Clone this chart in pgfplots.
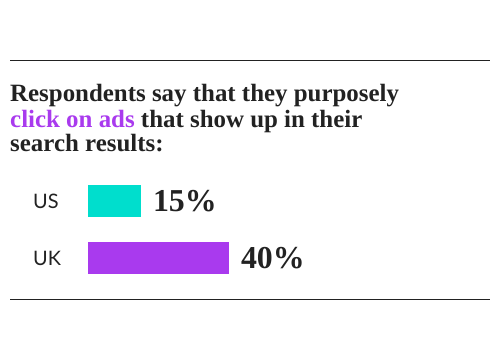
\documentclass[border=0pt]{standalone}
\usepackage{pgfplots}
\pgfplotsset{compat=1.18}
\usepackage{fontspec}
\setmainfont{Liberation Serif}
\newfontfamily\lab{Lato}
\definecolor{teal1}{HTML}{00DECD}
\definecolor{purp}{HTML}{A93AEE}
\definecolor{ink}{HTML}{222222}
\begin{document}
\begin{tikzpicture}
\path[use as bounding box] (0bp,0bp) rectangle (500bp,362bp);
\draw[ink, line width=1bp] (10bp,301.7bp) -- (490bp,301.7bp);
\draw[ink, line width=1bp] (10bp,62bp) -- (490bp,62bp);
\begin{scope}[every node/.style={anchor=base west, inner sep=0pt, font=\bfseries\fontsize{25}{25}\selectfont, text=ink}]
\node at (10bp,260.3bp) {Respondents say that they purposely};
\node at (10bp,234.7bp) {\textcolor{purp}{click on ads} that show up in their};
\node at (10bp,210.3bp) {search results:};
\end{scope}
\begin{axis}[at={(88bp,74.75bp)}, anchor=south west, scale only axis,
  width=352bp, height=115bp, xmin=0, xmax=100, ymin=-0.5, ymax=1.5,
  xbar, bar width=32bp, bar shift=0pt,
  axis line style={draw=none}, xtick=\empty, ytick={0,1}, yticklabels={UK,US},
  major tick length=0pt,
  yticklabel style={font=\lab\fontsize{20}{20}\selectfont, text=ink, anchor=west, inner sep=0pt, xshift=-55bp},
  clip=false,
  /pgf/number format/assume math mode=true,
  point meta=x,
  nodes near coords={\pgfmathprintnumber{\pgfplotspointmeta}\%},
  nodes near coords style={font=\bfseries\fontsize{32}{32}\selectfont, text=ink, anchor=west, inner sep=0pt, xshift=12bp},
]
\addplot[fill=purp, draw=none] coordinates {(40,0)};
\addplot[fill=teal1, draw=none] coordinates {(15,1)};
\end{axis}
\end{tikzpicture}
\end{document}
